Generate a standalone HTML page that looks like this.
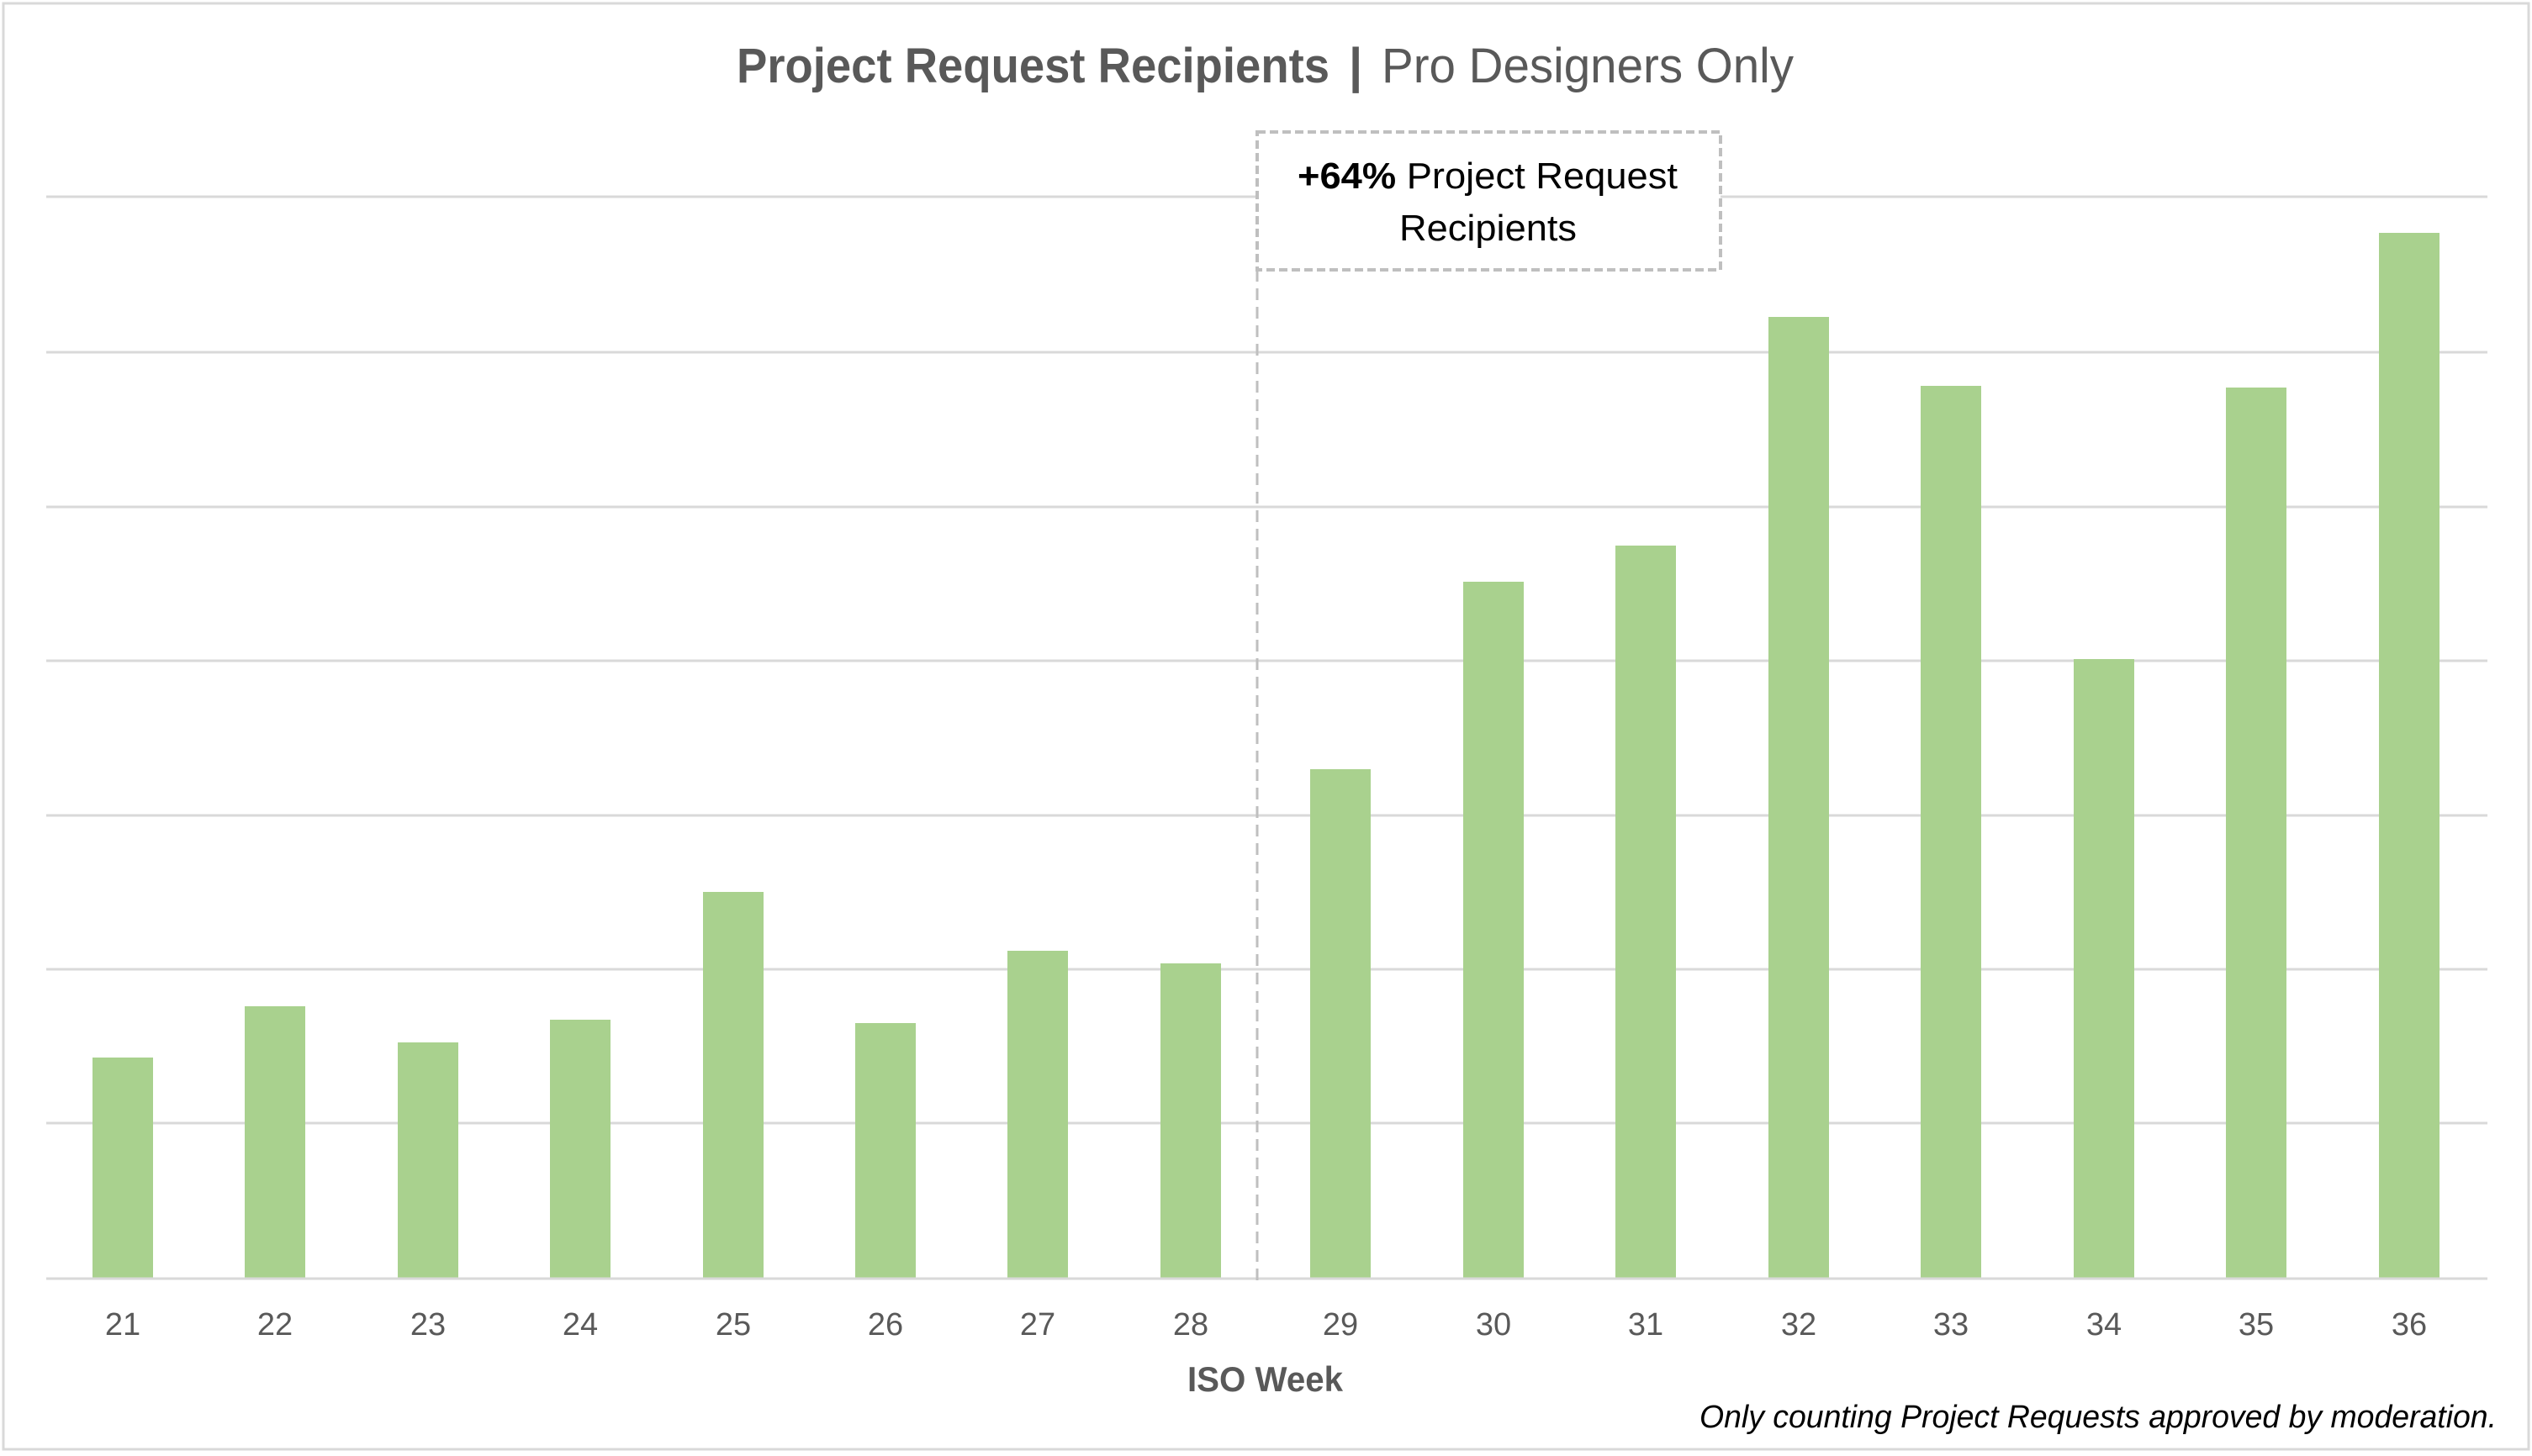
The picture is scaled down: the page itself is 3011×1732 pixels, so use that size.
<!DOCTYPE html>
<html><head><meta charset="utf-8"><style>html,body{margin:0;padding:0;background:#fff}svg{display:block}</style></head><body>
<svg width="3011" height="1732" viewBox="0 0 3011 1732" xmlns="http://www.w3.org/2000/svg" font-family="Liberation Sans, sans-serif">
<rect x="4" y="4" width="3003" height="1720" fill="#fff" stroke="#d9d9d9" stroke-width="3"/>
<g stroke="#d9d9d9" stroke-width="3">
<line x1="55" x2="2958" y1="234" y2="234"/>
<line x1="55" x2="2958" y1="419" y2="419"/>
<line x1="55" x2="2958" y1="603" y2="603"/>
<line x1="55" x2="2958" y1="786" y2="786"/>
<line x1="55" x2="2958" y1="970" y2="970"/>
<line x1="55" x2="2958" y1="1153" y2="1153"/>
<line x1="55" x2="2958" y1="1336" y2="1336"/>
</g>
<g fill="#a9d18e">
<rect x="110" y="1258" width="72" height="262"/>
<rect x="291" y="1197" width="72" height="323"/>
<rect x="473" y="1240" width="72" height="280"/>
<rect x="654" y="1213" width="72" height="307"/>
<rect x="836" y="1061" width="72" height="459"/>
<rect x="1017" y="1217" width="72" height="303"/>
<rect x="1198" y="1131" width="72" height="389"/>
<rect x="1380" y="1146" width="72" height="374"/>
<rect x="1558" y="915" width="72" height="605"/>
<rect x="1740" y="692" width="72" height="828"/>
<rect x="1921" y="649" width="72" height="871"/>
<rect x="2103" y="377" width="72" height="1143"/>
<rect x="2284" y="459" width="72" height="1061"/>
<rect x="2466" y="784" width="72" height="736"/>
<rect x="2647" y="461" width="72" height="1059"/>
<rect x="2829" y="277" width="72" height="1243"/>
</g>
<line x1="55" x2="2958" y1="1521" y2="1521" stroke="#d9d9d9" stroke-width="3"/>
<line x1="1495" x2="1495" y1="321" y2="1526" stroke="#bfbfbf" stroke-width="3" stroke-dasharray="14,8"/>
<rect x="1495" y="157" width="551" height="164" fill="#fff" stroke="#bfbfbf" stroke-width="4" stroke-dasharray="10,5"/>
<text x="1543" y="224" font-size="44" fill="#000" textLength="452" lengthAdjust="spacingAndGlyphs"><tspan font-weight="bold">+64%</tspan> Project Request</text>
<text x="1664" y="286" font-size="44" fill="#000" textLength="211" lengthAdjust="spacingAndGlyphs">Recipients</text>
<text x="876" y="98" font-size="58" font-weight="bold" fill="#595959" textLength="705" lengthAdjust="spacingAndGlyphs">Project Request Recipients</text>
<text x="1604" y="98" font-size="58" font-weight="bold" fill="#595959">|</text>
<text x="1643" y="98" font-size="58" fill="#595959" textLength="490" lengthAdjust="spacingAndGlyphs">Pro Designers Only</text>
<g font-size="38" fill="#595959" text-anchor="middle">
<text x="146" y="1588">21</text><text x="327" y="1588">22</text><text x="509" y="1588">23</text><text x="690" y="1588">24</text>
<text x="872" y="1588">25</text><text x="1053" y="1588">26</text><text x="1234" y="1588">27</text><text x="1416" y="1588">28</text>
<text x="1594" y="1588">29</text><text x="1776" y="1588">30</text><text x="1957" y="1588">31</text><text x="2139" y="1588">32</text>
<text x="2320" y="1588">33</text><text x="2502" y="1588">34</text><text x="2683" y="1588">35</text><text x="2865" y="1588">36</text>
</g>
<text x="1412" y="1655" font-size="42" font-weight="bold" fill="#595959" textLength="185" lengthAdjust="spacingAndGlyphs">ISO Week</text>
<text x="2021" y="1698" font-size="38" font-style="italic" fill="#000" textLength="948" lengthAdjust="spacingAndGlyphs">Only counting Project Requests approved by moderation.</text>
</svg>
</body></html>
